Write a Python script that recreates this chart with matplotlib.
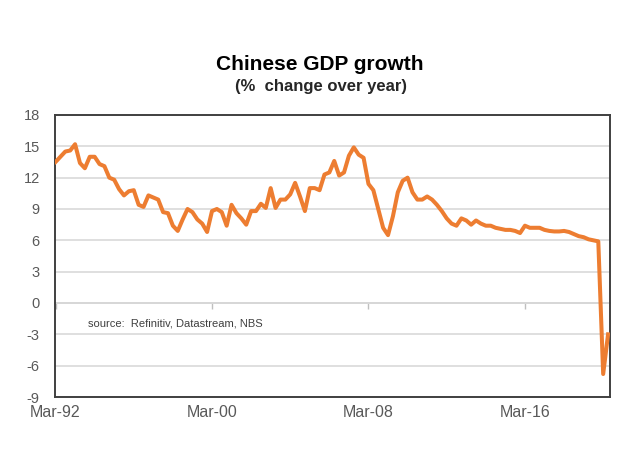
import numpy as np
import pandas as pd
import matplotlib
matplotlib.use("Agg")
import matplotlib.pyplot as plt

plt.rcParams['font.family'] = ['Liberation Sans', 'DejaVu Sans']
plt.rcParams['axes.unicode_minus'] = False

# quarterly real GDP, % change over year, Mar-92 .. Jun-20
gdp_growth = [
    13.5, 14.0, 14.5, 14.6, 15.2, 13.4, 12.9, 14.0, 14.0, 13.3,
    13.1, 12.0, 11.8, 10.9, 10.3, 10.7, 10.8, 9.4, 9.2, 10.3,
    10.1, 9.9, 8.7, 8.6, 7.4, 6.9, 8.0, 9.0, 8.7, 8.0,
    7.6, 6.8, 8.8, 9.0, 8.7, 7.4, 9.4, 8.6, 8.1, 7.5,
    8.8, 8.8, 9.5, 9.1, 11.0, 9.1, 9.9, 9.9, 10.4, 11.5,
    10.2, 8.8, 11.0, 11.0, 10.8, 12.3, 12.5, 13.6, 12.2, 12.5,
    14.1, 14.9, 14.2, 13.9, 11.4, 10.8, 9.0, 7.2, 6.5, 8.3,
    10.6, 11.7, 12.0, 10.6, 9.9, 9.9, 10.2, 9.9, 9.4, 8.8,
    8.1, 7.6, 7.4, 8.1, 7.9, 7.5, 7.9, 7.6, 7.4, 7.4,
    7.2, 7.1, 7.0, 7.0, 6.9, 6.7, 7.4, 7.2, 7.2, 7.2,
    7.0, 6.9, 6.85, 6.85, 6.9, 6.8, 6.6, 6.4, 6.3, 6.1,
    6.0, 5.9, -6.8, -3.0,
]
quarters = pd.date_range('1992-03-31', periods=len(gdp_growth), freq='QE')
tick_dates = ['1992-03-31', '2000-03-31', '2008-03-31', '2016-03-31']
y_ticks = list(range(-9, 19, 3))

x = np.arange(len(gdp_growth))
tick_pos = [quarters.get_loc(pd.Timestamp(d)) for d in tick_dates]
tick_labels = [pd.Timestamp(d).strftime('%b-%y') for d in tick_dates]

fig = plt.figure(figsize=(6.19, 4.68), dpi=100)
ax = fig.add_axes([0.0889, 0.1517, 0.8966, 0.6026])

ax.plot(x, gdp_growth, color='#ED7D31', linewidth=2.9, solid_joinstyle='round', zorder=3)

ax.set_ylim(-9, 18)
ax.set_xlim(-0.1, 113.4)
ax.set_yticks(y_ticks)
ax.yaxis.grid(True, color='#d9d9d9', linewidth=1.2)
ax.set_axisbelow(True)
ax.tick_params(axis='y', length=0, pad=11, labelsize=10.5, labelcolor='#595959')

ax.set_xticks(tick_pos)
ax.set_xticklabels(tick_labels)
ax.tick_params(axis='x', length=0, pad=6, labelsize=11.5, labelcolor='#595959')

for s in ax.spines.values():
    s.set_color('#404040')
    s.set_linewidth(1.4)

# zero line with the tick marks hanging from it
zero_ax = ax.secondary_xaxis(9 / 27)
zero_ax.set_xticks(tick_pos)
zero_ax.set_xticklabels([])
zero_ax.tick_params(axis='x', direction='out', length=4, color='#bfbfbf', width=1)
zero_ax.spines['bottom'].set_color('#d0d0d0')
zero_ax.spines['bottom'].set_linewidth(1.4)

ax.text(0.06, 0.262, 'source:  Refinitiv, Datastream, NBS', transform=ax.transAxes,
        fontsize=8, color='#404040', va='center', ha='left')

fig.text(0.517, 1 - 65 / 468, 'Chinese GDP growth', ha='center', va='center',
         fontsize=15, fontweight='bold', color='black')
fig.text(0.518, 1 - 87 / 468, '(%  change over year)', ha='center', va='center',
         fontsize=12, fontweight='bold', color='#262626')

fig.savefig('out.png', dpi=100)
